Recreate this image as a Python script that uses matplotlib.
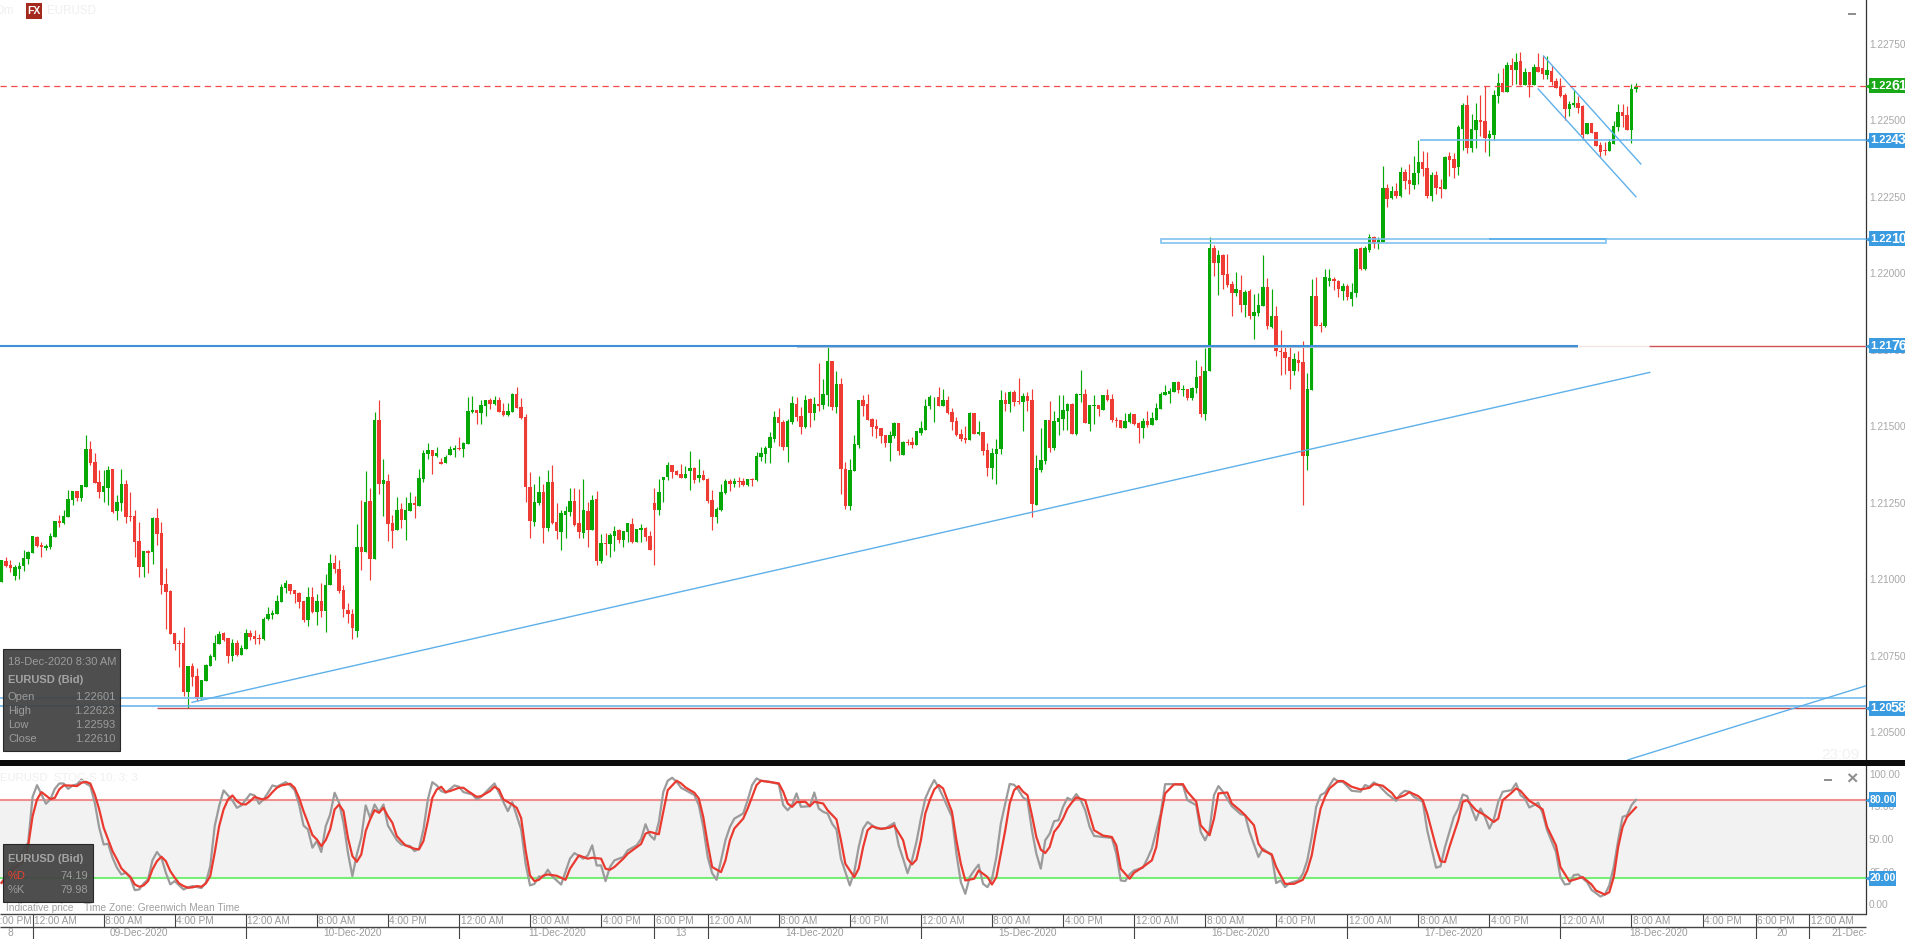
import numpy as np
import matplotlib
matplotlib.use('Agg')
import matplotlib.pyplot as plt
from matplotlib.patches import Rectangle

plt.rcParams['font.family'] = ['Liberation Sans', 'DejaVu Sans']

W, H = 1905, 939

# 30m EURUSD candles, in points above 1.20000, first bar sits 7 bars before 09-Dec 12:00 AM
first_bar = -7
bar_open = [
    992,1060,1047,1011,1034,1044,1067,
    1086,1138,1112,1102,1106,1138,1191,1184,1204,1259,
    1287,1266,1302,1426,1383,1318,1285,1299,1361,1223,
    1250,1312,1207,1207,1125,1040,1093,1089,1201,1152,
    985,962,825,792,792,632,717,684,609,668,
    717,746,789,825,808,750,792,753,773,825,
    815,808,805,869,884,887,926,972,985,965,
    955,929,867,942,893,929,897,981,1053,1034,
    965,900,887,830,1105,1089,1256,1066,1520,1311,
    1321,1184,1161,1230,1194,1223,1249,1239,1328,1409,
    1422,1403,1383,1380,1406,1422,1429,1426,1442,1546,
    1553,1543,1566,1586,1573,1586,1550,1537,1546,1605,
    1563,1530,1301,1187,1249,1285,1167,1318,1187,1154,
    1210,1220,1256,1184,1151,1223,1161,1262,1060,1118,
    1115,1141,1161,1128,1154,1181,1122,1161,1167,1141,
    1249,1226,1325,1334,1374,1354,1344,1331,1354,1364,
    1331,1341,1328,1259,1204,1227,1282,1321,1312,1321,
    1321,1308,1328,1325,1400,1410,1429,1459,1530,1514,
    1432,1514,1573,1534,1498,1589,1544,1573,1570,1602,
    1713,1563,1638,1361,1240,1354,1439,1586,1573,1524,
    1501,1495,1472,1446,1468,1511,1406,1449,1449,1439,
    1478,1488,1566,1594,1596,1566,1586,1547,1517,1475,
    1462,1455,1544,1475,1481,1423,1363,1409,1426,1586,
    1573,1612,1582,1579,1599,1586,1243,1357,1386,1520,
    1429,1514,1524,1550,1573,1475,1602,1605,1507,1566,
    1569,1553,1602,1589,1520,1520,1494,1514,1540,1510,
    1494,1517,1504,1520,1556,1602,1605,1612,1644,1618,
    1622,1592,1625,1664,1540,1680,2082,2033,2059,1997,
    1965,1935,1945,1896,1942,1860,1870,1893,1955,1824,
    1860,1746,1742,1726,1680,1716,1710,1403,1618,1925,
    1831,1828,1973,1980,1975,1943,1959,1917,1937,2082,
    2013,2076,2118,2098,2102,2278,2246,2269,2252,2331,
    2305,2288,2327,2363,2344,2252,2321,2282,2275,2383,
    2373,2347,2471,2550,2409,2468,2501,2497,2442,2452,
    2579,2622,2592,2680,2664,2693,2615,2657,2615,2674,
    2671,2648,2661,2628,2608,2582,2537,2550,2556,2546,
    2455,2491,2461,2419,2403,2399,2422,2478,2527,2517,
    2468,2601]
bar_high = [
    1063,1074,1063,1047,1055,1096,1091,
    1142,1142,1121,1114,1150,1191,1210,1227,1292,1289,
    1290,1308,1473,1452,1413,1357,1357,1370,1361,1276,
    1361,1325,1285,1227,1187,1093,1096,1204,1233,1187,
    1037,965,825,802,844,717,727,710,671,724,
    756,818,831,828,808,805,802,786,838,835,
    835,822,877,910,900,949,985,998,985,965,
    959,929,975,975,952,988,1018,1083,1079,1063,
    981,921,902,1181,1259,1354,1298,1546,1586,1393,
    1344,1210,1269,1249,1269,1285,1272,1360,1422,1445,
    1422,1432,1396,1406,1435,1439,1465,1448,1595,1599,
    1553,1586,1586,1592,1599,1595,1576,1576,1609,1628,
    1592,1540,1350,1311,1337,1311,1357,1373,1249,1226,
    1239,1298,1298,1295,1328,1252,1275,1288,1148,1151,
    1151,1174,1164,1158,1184,1200,1164,1181,1171,1158,
    1298,1328,1334,1383,1374,1357,1377,1370,1419,1367,
    1393,1357,1331,1292,1236,1312,1328,1328,1331,1334,
    1331,1328,1331,1416,1432,1436,1481,1550,1560,1521,
    1524,1599,1596,1563,1602,1593,1596,1707,1655,1762,
    1713,1681,1658,1383,1393,1472,1586,1602,1606,1527,
    1524,1495,1472,1485,1514,1511,1452,1459,1465,1485,
    1517,1589,1602,1596,1628,1622,1599,1560,1530,1491,
    1501,1547,1544,1517,1481,1446,1429,1458,1618,1612,
    1615,1618,1657,1608,1612,1622,1406,1494,1520,1582,
    1550,1602,1602,1576,1576,1608,1684,1622,1569,1602,
    1569,1602,1622,1605,1530,1520,1543,1546,1540,1514,
    1527,1550,1546,1576,1612,1635,1625,1644,1648,1635,
    1622,1628,1716,1697,1755,2118,2092,2076,2063,2063,
    1974,2004,1994,1945,1948,1932,1935,2059,1984,1948,
    1893,1814,1762,1762,1739,1746,1778,1674,1981,1987,
    1842,2013,2013,1987,1978,1967,1965,1967,2082,2085,
    2089,2129,2122,2118,2351,2292,2285,2295,2347,2341,
    2357,2383,2435,2399,2396,2331,2334,2308,2383,2396,
    2393,2484,2556,2582,2520,2556,2582,2611,2468,2599,
    2654,2671,2690,2703,2720,2723,2671,2657,2684,2720,
    2710,2710,2677,2638,2638,2589,2563,2599,2579,2550,
    2491,2491,2461,2429,2429,2439,2497,2553,2553,2546,
    2618,2623]
bar_low = [
    992,1039,1025,998,1001,1027,1050,
    1086,1107,1073,1096,1100,1138,1171,1181,1204,1243,
    1256,1256,1302,1374,1315,1266,1253,1243,1216,1194,
    1223,1185,1191,1073,1008,1008,1021,1050,1112,952,
    838,822,769,714,619,579,652,603,606,668,
    717,737,789,799,727,733,750,753,773,802,
    789,789,802,867,871,887,926,955,952,923,
    906,861,848,890,851,877,828,981,1020,954,
    878,856,806,812,1030,1089,998,1066,1279,1207,
    1125,1102,1161,1167,1128,1223,1200,1239,1318,1393,
    1344,1399,1377,1380,1406,1399,1422,1399,1442,1543,
    1507,1507,1533,1556,1569,1546,1533,1533,1546,1560,
    1524,1252,1135,1174,1243,1118,1158,1181,1132,1096,
    1135,1207,1174,1135,1135,1105,1161,1047,1053,1079,
    1073,1092,1118,1105,1122,1118,1122,1122,1125,1096,
    1047,1210,1253,1325,1331,1341,1331,1331,1292,1315,
    1318,1325,1249,1161,1184,1223,1279,1289,1302,1302,
    1305,1305,1305,1321,1387,1380,1380,1449,1436,1423,
    1383,1508,1517,1475,1495,1498,1521,1550,1557,1566,
    1553,1544,1279,1230,1227,1354,1429,1534,1521,1468,
    1462,1446,1432,1387,1462,1406,1406,1439,1429,1439,
    1472,1488,1557,1514,1566,1566,1540,1488,1468,1452,
    1446,1455,1475,1472,1406,1338,1328,1311,1409,1550,
    1546,1566,1573,1484,1550,1203,1243,1350,1377,1416,
    1422,1471,1488,1488,1475,1471,1579,1510,1484,1507,
    1533,1553,1582,1514,1497,1494,1494,1510,1504,1445,
    1461,1497,1504,1520,1556,1602,1576,1612,1608,1599,
    1586,1586,1608,1530,1520,1680,1991,1929,1948,1955,
    1860,1925,1873,1857,1850,1785,1860,1893,1818,1821,
    1729,1667,1671,1622,1667,1680,1243,1357,1618,1827,
    1809,1824,1959,1946,1921,1913,1913,1894,1921,2009,
    2009,2071,2082,2080,2102,2216,2243,2246,2249,2275,
    2259,2275,2292,2318,2246,2236,2259,2246,2275,2318,
    2311,2321,2403,2393,2396,2409,2448,2396,2383,2435,
    2556,2592,2592,2615,2618,2615,2615,2576,2615,2657,
    2635,2635,2615,2605,2576,2501,2514,2543,2524,2435,
    2455,2458,2416,2380,2386,2399,2422,2465,2478,2468,
    2426,2593]
bar_close = [
    1063,1044,1038,1040,1044,1070,1090,
    1142,1109,1104,1109,1142,1191,1185,1207,1263,1287,
    1266,1308,1426,1380,1315,1285,1305,1357,1220,1253,
    1312,1204,1204,1122,1040,1093,1086,1201,1148,982,
    959,822,789,790,632,717,681,609,671,720,
    750,792,822,802,750,792,753,776,825,812,
    805,806,871,887,890,929,975,988,962,952,
    926,867,942,893,929,897,982,1052,1034,963,
    903,887,840,1105,1089,1252,1066,1520,1311,1324,
    1181,1158,1226,1194,1226,1249,1243,1331,1413,1422,
    1403,1413,1377,1399,1426,1429,1426,1445,1550,1553,
    1543,1569,1586,1573,1586,1546,1537,1550,1605,1560,
    1527,1301,1190,1252,1285,1167,1318,1184,1158,1216,
    1223,1256,1177,1154,1226,1161,1259,1060,1118,1116,
    1145,1158,1128,1158,1184,1122,1164,1167,1138,1096,
    1226,1285,1334,1374,1351,1341,1331,1344,1364,1325,
    1341,1325,1256,1204,1230,1285,1321,1312,1321,1319,
    1308,1328,1326,1403,1413,1429,1465,1530,1511,1432,
    1517,1576,1530,1498,1586,1544,1573,1566,1606,1713,
    1563,1638,1361,1240,1357,1442,1586,1566,1521,1498,
    1491,1468,1446,1472,1511,1419,1449,1446,1439,1485,
    1495,1566,1596,1596,1566,1586,1544,1514,1472,1459,
    1455,1544,1475,1481,1419,1364,1412,1426,1586,1573,
    1612,1579,1580,1599,1582,1246,1363,1390,1520,1429,
    1517,1527,1553,1573,1475,1605,1605,1510,1569,1569,
    1556,1602,1586,1520,1517,1494,1517,1540,1507,1494,
    1517,1504,1527,1559,1605,1612,1615,1644,1618,1622,
    1592,1625,1661,1540,1680,2082,2033,2059,1994,1961,
    1935,1948,1896,1938,1860,1873,1896,1955,1827,1860,
    1746,1742,1723,1680,1720,1706,1403,1622,1925,1827,
    1828,1989,1984,1975,1948,1959,1921,1939,2080,2015,
    2082,2118,2096,2107,2279,2243,2269,2252,2331,2301,
    2292,2327,2363,2341,2252,2321,2278,2275,2380,2370,
    2344,2478,2550,2409,2471,2501,2494,2442,2455,2582,
    2622,2592,2680,2664,2690,2615,2657,2615,2674,2657,
    2651,2664,2625,2605,2579,2537,2553,2556,2540,2452,
    2491,2458,2416,2396,2400,2429,2481,2527,2514,2468,
    2602,2610]

# stochastic, read at the turning points of each line
k_bars = [-7,-1,0,1,2,3,4,5,6,7,8,9,10,11,12,13,14,15,16,17,18,19,20,21,22,23,24,25,26,27,28,29,30,31,32,33,34,35,36,38,39,40,41,42,43,44,45,46,47,49,50,51,52,53,54,55,57,58,59,60,61,62,63,64,65,66,67,68,69,70,71,72,73,74,75,76,77,78,79,80,81,82,83,85,86,87,88,89,90,91,92,93,95,96,97,99,100,101,103,104,105,106,107,108,110,
    111,112,113,114,115,116,117,119,121,122,124,125,126,127,128,129,130,131,133,134,136,137,
    138,139,140,141,142,143,144,145,146,147,149,150,151,152,153,154,155,156,157,158,160,161,162,163,164,166,168,169,170,171,172,173,175,176,177,178,179,180,181,182,183,184,185,186,187,188,190,192,194,195,196,197,198,199,200,201,202,203,204,205,207,208,209,210,211,212,213,214,215,216,217,218,219,220,221,222,223,224,225,226,227,228,229,230,231,232,233,234,235,236,237,238,239,241,243,244,245,246,247,248,250,251,252,254,255,257,259,260,262,263,264,265,266,267,268,270,272,273,274,276,277,279,280,
    281,282,283,285,286,287,288,289,290,291,293,294,295,297,299,300,301,302,303,305,307,308,309,310,311,313,314,316,317,318,320,321,322,323,324,325,326,327,328,329,330,331,333,334,335,336,337,339,340,341,343,344,345,346,347,348,350,351,353,354,355,356,357,358,359,360,361]
k_vals = [16.4,47.1,82.3,91.2,84.1,77,80.3,88.4,92.5,92.5,88.4,91,91.8,95.6,92.5,90.5,77.7,58.6,45.8,46.3,35.6,27.9,22.8,24.1,20.3,10.8,11.3,15.9,19,33.8,40,35.6,24.1,15.2,17.7,14.4,11.3,12.9,13.9,12.4,16.4,29.2,59.8,75.2,87.2,83.3,79.5,73.9,75.7,84.4,83.3,77,80.3,85.4,91,90,93.5,91,87.4,76.4,60.3,57.3,43.3,48.4,40,59.8,68.8,85.4,77.7,62.4,39.4,21.5,38.1,50.9,75.7,66.2,76.4,70.6,76.4,60.3,54.7,49.1,45.8,44.5,40.7,42.5,57.3,80.3,93.5,91,86.7,85.4,91,90,85.9,84.1,80.3,82.3,89.2,92.5,85.4,78.2,71.3,78.2,57.3,
    31,14.4,15.6,21.3,20.8,26.4,21.3,15.1,34.9,39.2,34.9,37.4,45.1,29.7,29.7,17.7,28.5,33.6,36.2,41.3,45.1,50,
    61.3,52.8,49.5,63,86,94.6,96.9,93.8,89.2,87.4,83.6,75.9,59.2,36.2,23.8,18.7,33.6,49,59.2,65.6,69.5,79.7,91.3,96.4,94.6,93.8,92,75.9,72,75.9,84.9,74.6,75.1,85.6,73.3,70.8,69.5,61.8,57.2,34.9,24.6,14.4,24.6,43.8,58,63,58,58,62.3,45.1,34.9,23.8,33.6,47.7,65.6,81,88.7,95.1,89.5,82.3,66.9,38.7,16.9,8,20.8,25.9,30.3,15.6,13.1,19.5,36.2,61.8,77.2,92.1,91.5,87.4,81.8,79.7,56.7,38.7,27.2,49,54,63.6,64.4,74.6,81.5,79.7,84.4,79.7,72,59.2,52.3,51.5,50.8,38.7,18.2,17.7,22.8,25.9,28,34.9,42.6,69.5,92,92,91.3,79.7,75.9,55.4,49,56.7,83.6,90.5,86.2,75.1,69,68.2,55.4,36.2,42.6,37.4,16.2,
    18.2,13.1,16.2,18.2,23.3,33.6,51.5,74.6,83.6,85.4,96.4,93.8,93.8,86.9,86.2,91.3,90,93.3,91.3,84.4,79.2,84.4,86.9,86.2,82.3,78.5,56.7,28,29,43.8,66.9,73.3,84.1,82.8,73.3,64.4,73.3,66.9,58,64.9,78.5,86.2,87.4,92.6,83.6,81,74.1,77.7,69.5,56.7,40,20.8,15.1,15.6,22.3,22.8,16.9,11,5.9,7.4,14.4,28.5,49,66.9,68.2,75.9,79.98]
d_bars = [-7,-4,-2,-1,0,1,2,3,4,5,6,7,8,10,11,12,13,14,15,16,17,18,19,20,21,22,23,24,25,26,27,28,29,30,31,32,33,34,35,36,37,38,39,40,41,42,43,44,45,46,47,48,49,50,51,52,53,54,55,56,58,59,60,61,62,63,64,65,66,67,68,69,70,71,72,73,74,75,76,77,78,79,80,81,82,83,84,86,87,88,89,90,91,92,93,94,96,97,98,100,101,103,104,105,106,108,109,110,
    111,112,113,114,115,116,118,120,121,123,125,126,128,129,130,131,133,134,137,
    138,139,141,142,143,145,146,147,149,150,151,152,153,155,156,157,158,160,161,162,163,164,166,168,169,170,171,172,174,175,176,178,179,181,182,183,185,186,187,188,189,191,193,194,196,197,198,199,200,201,202,203,204,205,206,207,208,209,210,212,213,215,216,217,218,219,220,221,222,223,224,225,226,227,228,229,230,231,232,233,234,235,237,238,239,241,243,244,245,247,248,250,252,253,254,255,257,259,260,262,263,265,266,267,269,270,272,273,275,276,277,279,
    280,281,282,284,286,287,288,289,290,291,292,294,295,297,299,301,302,304,306,307,309,310,312,313,314,316,317,318,319,321,322,323,325,327,329,330,331,333,334,335,337,338,340,341,343,344,346,347,349,351,352,354,355,356,357,358,359,361]
d_vals = [16.4,28,33,44.5,67.5,80.3,85.9,83.3,80.5,81.5,88,91,91,90.5,93,93.8,92.5,84.1,72.6,58.6,49.6,40.7,34.3,27.4,24.1,21,15.2,13.4,14.4,17.7,26.7,33,36.4,33,25.4,20.3,15.9,13.9,12.6,12.9,13.9,13.4,15.9,21.6,39.4,59.8,72.6,80.3,83.3,79,76.7,76.4,79,82.3,81,80.3,82,85.9,89.2,91,92.3,89.2,81.5,71.3,62.4,53,49.6,44.5,49.1,57.3,72.6,76.4,71.3,50.9,36.9,32.5,38.1,56,65,72.1,70,73.9,67.5,62.4,52.2,48.4,45,42.5,42,48.4,63.7,81.5,87.9,90,85.9,86.7,89.2,89.2,86.7,82.3,82.8,86.7,90,87.9,80.3,76.4,73.9,66,
    41.3,22,17.7,18.7,22,22.8,21.8,18.7,27.2,37.4,34.9,35.6,34.9,27.2,26.4,28.5,34.9,38.7,46.2,
    54.1,55.4,53.6,70.8,87.4,94.6,92.6,89.5,85.4,81,66.9,46.4,28.5,24.6,33.6,49,58,65.6,73.3,82.3,91.3,94.6,93.6,92.6,86.2,77.2,74.6,78.2,78.5,75.1,78.5,77.2,72,64.9,49,31,20.8,27.2,43.8,56.7,59.7,57.7,58.7,60.3,49,34.9,30.5,34.1,49,69.5,79.7,87.9,91.3,88.7,79.7,70.8,49,31,18.2,19.5,25.9,20.8,15.1,20.8,38.7,56.7,77.2,87.4,90.5,86.2,83.6,68.2,51.5,41.8,39.2,43.8,55.4,59.7,65.6,73.3,78,81.8,79.7,68.2,56.7,52.6,51.5,45.1,27.2,19.5,24.1,28.5,33.6,43.8,66.9,84.9,91.8,92,86.2,78.5,60.5,52.8,65.6,84.9,85.6,77.2,71.5,68.2,60.5,46.4,41.3,38.2,
    28.5,22,15.6,15.6,18.7,25.9,37.4,56.7,73.3,82.3,88.7,94.4,94.4,90,87.9,89.2,92,90.8,85.4,81,83.6,85.9,82.8,79.7,69.5,43.8,33,32.3,43.8,64.4,78.5,79.7,72,68.2,63,65.6,79.7,85.4,88.7,86.9,79.2,77.2,72.6,59.2,45.1,28.5,17.7,18.7,20.8,15.1,10.5,7.4,9.2,20.8,43.8,59.2,66.9,74.19]

# horizontal levels and trend lines, (bar, price)
level_612 = 1.20612
level_585 = 1.20585
level_578 = 1.20578
level_176 = 1.21763
level_210 = 1.22112
level_243 = 1.22435
level_last = 1.22612
trend_main = ([35.9, 364.1], [1.20598, 1.21676])
trend_low = ([359.2, 412.8], [1.20410, 1.20652])
channel_top = ([340.2, 362.1], [1.22710, 1.22357])
channel_bot = ([339.0, 361.0], [1.22602, 1.22250])
box_bars = (254.1, 354.2)
box_prices = (1.22098, 1.22113)

price_ticks = [1.2275, 1.225, 1.2225, 1.22, 1.2175, 1.215, 1.2125, 1.21, 1.2075, 1.205]
stoch_ticks = [100, 75, 50, 25, 0]

time_bars = [-9,0,16,32,48,64,80,96,112,128,140,152,168,184,200,216,232,248,264,280,296,312,328,344,360,376,388,400]
time_labels = ['6:00 PM','12:00 AM','8:00 AM','4:00 PM','12:00 AM','8:00 AM','4:00 PM','12:00 AM','8:00 AM','4:00 PM','6:00 PM',
               '12:00 AM','8:00 AM','4:00 PM','12:00 AM','8:00 AM','4:00 PM','12:00 AM','8:00 AM','4:00 PM','12:00 AM','8:00 AM',
               '4:00 PM','12:00 AM','8:00 AM','4:00 PM','6:00 PM','12:00 AM']
date_seps = [0,48,96,140,152,200,248,296,344,388,400]
date_centers = [-5,24,72,118,146,176,224,272,320,366,394]
date_labels = ['8','09-Dec-2020','10-Dec-2020','11-Dec-2020','13','14-Dec-2020','15-Dec-2020','16-Dec-2020','17-Dec-2020','18-Dec-2020','20']

GREEN = '#06a806'
RED = '#ee3c34'
BLUE = '#5eb0ea'
GREY = '#a6a6a6'
XLIM = (-7.34, 412.8)


def pos(x0, y0, x1, y1):
    return [x0 / W, 1 - y1 / H, (x1 - x0) / W, (y1 - y0) / H]


def ptext(x, y, s, **kw):
    kw.setdefault('va', 'center')
    kw.setdefault('color', GREY)
    return fig.text(x / W, 1 - y / H, s, **kw)


def pbox(x0, y0, x1, y1, **kw):
    fig.add_artist(Rectangle((x0 / W, 1 - y1 / H), (x1 - x0) / W, (y1 - y0) / H,
                             transform=fig.transFigure, **kw))


def price_label(ax, value, head, tail, color, height):
    tr = ax.get_yaxis_transform()
    ax.add_patch(Rectangle((1 + 3 / 1866, value - height / 2), 36 / 1866, height, transform=tr,
                           color=color, lw=0, clip_on=False, zorder=6))
    ax.plot([1 + 1.5 / 1866], [value], marker='<', ms=3.5, color=color, mew=0, transform=tr, clip_on=False, zorder=6)
    ax.annotate(head, xy=(1, value), xycoords=tr, xytext=(4, 0), textcoords='offset pixels', color='white',
                fontsize=8, fontweight='bold', va='center', zorder=7, annotation_clip=False)
    ax.annotate(tail, xy=(1, value), xycoords=tr, xytext=(25, 0), textcoords='offset pixels', color='white',
                fontsize=10.2, fontweight='bold', va='center', zorder=7, annotation_clip=False)


fig = plt.figure(figsize=(W / 100, H / 100), dpi=100, facecolor='white')

# price panel
ax = fig.add_axes(pos(0, 0, 1866, 760))
ax.set_xlim(*XLIM)
ax.set_ylim(1.204095, 1.228928)

bars = np.arange(first_bar, first_bar + len(bar_open))
o = 1.2 + np.array(bar_open) / 1e5
h = 1.2 + np.array(bar_high) / 1e5
l = 1.2 + np.array(bar_low) / 1e5
c = 1.2 + np.array(bar_close) / 1e5
up = c >= o
colors = np.where(up, GREEN, RED)
ax.vlines(bars, l, h, colors=colors, lw=0.85, zorder=3)
ax.bar(bars, np.maximum(np.abs(c - o), 0.00002), bottom=np.minimum(o, c), width=0.78, color=colors, lw=0, zorder=3)

# drawn levels
ax.hlines(level_612, XLIM[0], XLIM[1], color='#7fc2f0', lw=1.3, zorder=4)
ax.hlines(level_585, XLIM[0], XLIM[1], color=BLUE, lw=1.1, zorder=4)
ax.hlines(level_578, 28, XLIM[1], color='#c8484a', lw=1.0, zorder=4)
ax.hlines(level_176 - 0.00003, 172, 348, color='#b9c5d2', lw=1.4, zorder=4)
ax.hlines(level_176, XLIM[0], 348, color='#3f90d8', lw=1.5, zorder=4)
ax.hlines(level_176, 348, 364, color='#f1e4e4', lw=1.0, zorder=4)
ax.hlines(level_176, 364, XLIM[1], color='#cf5356', lw=1.0, zorder=4)
ax.add_patch(Rectangle((box_bars[0], box_prices[0]), box_bars[1] - box_bars[0], box_prices[1] - box_prices[0],
                       fill=False, edgecolor='#7fc2f0', lw=1.2, zorder=4))
ax.hlines(level_210, 328, box_bars[1], color=BLUE, lw=1.3, zorder=4)
ax.hlines(level_210, box_bars[1], XLIM[1], color='#7fc2f0', lw=1.2, zorder=4)
ax.hlines(level_243, 312.3, XLIM[1], color='#74bcee', lw=1.2, zorder=4)
ax.hlines(level_last, XLIM[0], XLIM[1], color='#f24a4a', lw=0.9, linestyles=(0, (5, 3.6)), zorder=5)
for line in (trend_main, trend_low, channel_top, channel_bot):
    ax.plot(line[0], line[1], color=BLUE, lw=1.0, zorder=4)

for s in ('top', 'left', 'bottom'):
    ax.spines[s].set_visible(False)
ax.spines['right'].set_color('#333333')
ax.spines['right'].set_linewidth(0.9)
ax.set_xticks([])
ax.yaxis.tick_right()
ax.set_yticks(price_ticks)
ax.set_yticklabels(['%.5f' % t for t in price_ticks])
ax.tick_params(axis='y', length=0, pad=2.2, labelsize=7.3, labelcolor='#a8a8a8')

price_h = 15 / 30604
price_label(ax, level_last, '1.22', '610', '#18a818', price_h)
price_label(ax, level_243, '1.22', '433', '#3a9be0', price_h)
price_label(ax, level_210, '1.22', '108', '#3a9be0', price_h)
price_label(ax, level_176, '1.21', '760', '#3a9be0', price_h)
price_label(ax, level_578, '1.20', '580', '#3a9be0', price_h)

# stochastic panel
ax2 = fig.add_axes(pos(0, 766, 1866, 914))
ax2.set_xlim(*XLIM)
ax2.set_ylim(-7.5, 105.9)
ax2.axhspan(20, 80, color='#f2f2f2', lw=0, zorder=1)
ax2.axhline(80, color='#f08d8d', lw=1.5, zorder=2)
ax2.axhline(20, color='#78ee78', lw=1.5, zorder=2)
ax2.plot(k_bars, k_vals, color='#9b9b9b', lw=1.6, zorder=3)
ax2.plot(d_bars, d_vals, color='#ea3a30', lw=1.6, zorder=4)
for s in ('top', 'left', 'bottom'):
    ax2.spines[s].set_visible(False)
ax2.spines['right'].set_color('#333333')
ax2.spines['right'].set_linewidth(0.9)
ax2.set_xticks([])
ax2.yaxis.tick_right()
ax2.set_yticks(stoch_ticks)
ax2.set_yticklabels(['%.2f' % t for t in stoch_ticks])
ax2.tick_params(axis='y', length=0, pad=2.2, labelsize=7.3, labelcolor='#a8a8a8')
tr2 = ax2.get_yaxis_transform()
for v in (80, 20):
    ax2.add_patch(Rectangle((1 + 3 / 1866, v - 5.8), 27 / 1866, 11.6, transform=tr2, color='#3a9be0', lw=0,
                            clip_on=False, zorder=6))
    ax2.plot([1 + 1.5 / 1866], [v], marker='<', ms=3.5, color='#3a9be0', mew=0, transform=tr2, clip_on=False, zorder=6)
    ax2.annotate('%.2f' % v, xy=(1, v), xycoords=tr2, xytext=(3.5, 0), textcoords='offset pixels', color='white',
                 fontsize=7.6, fontweight='bold', va='center', zorder=7, annotation_clip=False)

# time axis, two rows
ax3 = fig.add_axes(pos(0, 914, 1866, 939))
ax3.set_xlim(*XLIM)
ax3.set_ylim(0, 25)
ax3.axis('off')
ax3.hlines([25, 12], XLIM[0], XLIM[1], color='#444444', lw=1.0, clip_on=False)
ax3.vlines(time_bars, 12, 25, color='#444444', lw=0.8)
ax3.vlines(date_seps, 0, 12, color='#444444', lw=0.8)
for b, t in zip(time_bars, time_labels):
    ax3.text(b + 0.35, 18.4, t, fontsize=7.3, color='#9a9a9a', va='center', ha='left', clip_on=True)
for b, t in zip(date_centers, date_labels):
    ax3.text(b, 5.8, t, fontsize=7.3, color='#9a9a9a', va='center', ha='center', clip_on=True)
ax3.text(405, 5.8, '21-Dec-2020', fontsize=7.3, color='#9a9a9a', va='center', ha='left', clip_on=True)

# black divider between the panels
pbox(0, 760, W, 766, color='#0c0c0c', lw=0)

# header
ptext(-8, 11, '30m', fontsize=8.4, color='#efefef')
pbox(26, 3, 42, 19, color='#a52a1e', lw=0)
ptext(34, 11, 'FX', fontsize=7.5, color='white', fontweight='bold', ha='center')
ptext(47, 11, 'EURUSD', fontsize=8.4, color='#efefef')
pbox(1848, 13, 1856, 15, color='#8f8f8f', lw=0)
ptext(0, 777, 'EURUSD  STOC-S 10; 3; 3', fontsize=8.2, color='#efefef')
ptext(1821, 755, '23:09', fontsize=11, color='#f1f1f1')
pbox(1824, 779, 1832, 781, color='#8f8f8f', lw=0)
ptext(1852, 780, '×', fontsize=14, color='#8f8f8f', ha='center', fontweight='bold')

# tooltips
pbox(3, 649, 120, 751, facecolor='#444444', edgecolor='#222222', lw=0.8, alpha=0.95)
ptext(8, 662, '18-Dec-2020 8:30 AM', fontsize=8.05, color='#9c9c9c')
ptext(8, 680, 'EURUSD (Bid)', fontsize=8.05, color='#a4a4a4', fontweight='bold')
for y, name, val in zip((697, 711, 725, 739), ('Open', 'High', 'Low', 'Close'), ('1.22601', '1.22623', '1.22593', '1.22610')):
    ptext(8, y, name, fontsize=8.05, color='#9c9c9c')
    ptext(115, y, val, fontsize=8.05, color='#9c9c9c', ha='right')
pbox(3, 844, 93, 902, facecolor='#444444', edgecolor='#222222', lw=0.8, alpha=0.95)
ptext(8, 859, 'EURUSD (Bid)', fontsize=8.05, color='#a4a4a4', fontweight='bold')
ptext(8, 876, '%D', fontsize=8.05, color='#e8402f')
ptext(88, 876, '74.19', fontsize=8.05, color='#9c9c9c', ha='right')
ptext(8, 890, '%K', fontsize=8.05, color='#9c9c9c')
ptext(88, 890, '79.98', fontsize=8.05, color='#9c9c9c', ha='right')
ptext(6, 908, 'Indicative price', fontsize=7.3, color='#a0a0a0')
ptext(84, 908, 'Time Zone: Greenwich Mean Time', fontsize=7.3, color='#a0a0a0')

fig.savefig('out.png', dpi=100)
